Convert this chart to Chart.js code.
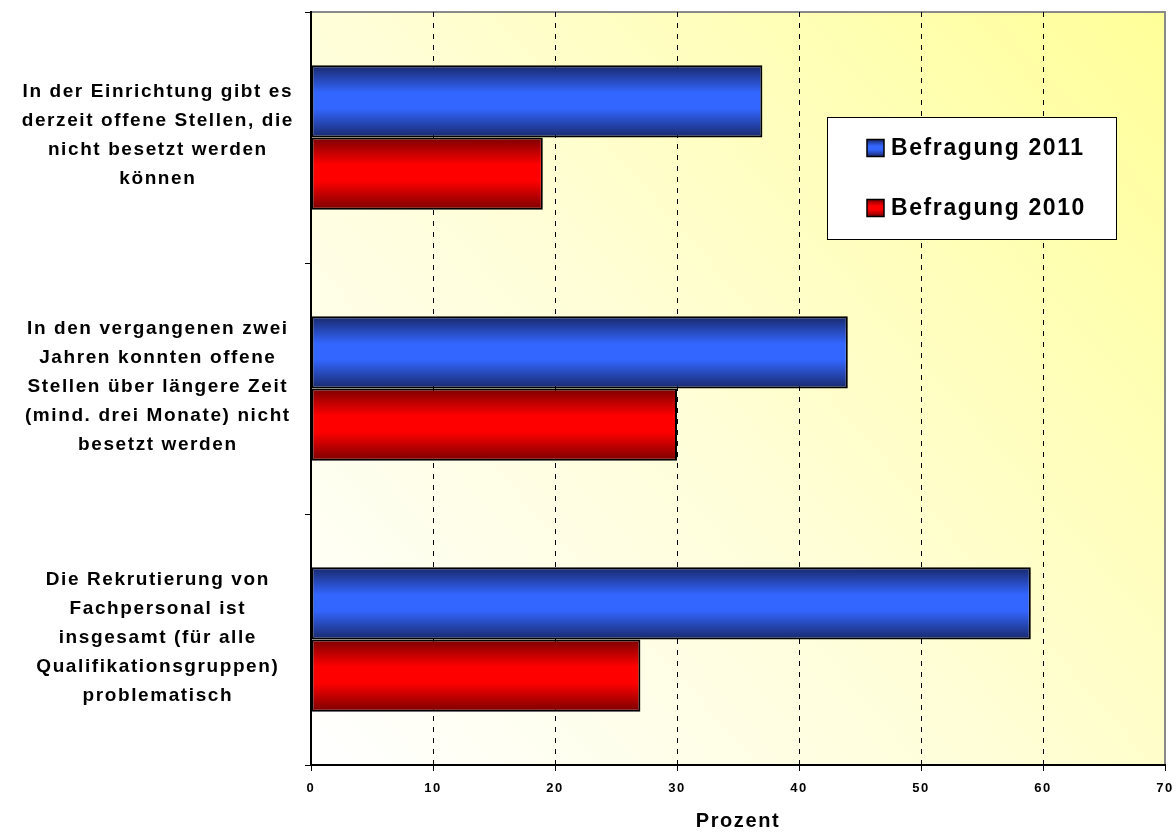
<!DOCTYPE html>
<html><head><meta charset="utf-8">
<script src="https://cdn.jsdelivr.net/npm/chart.js@4.4.0/dist/chart.umd.min.js"></script>
<style>html,body{margin:0;padding:0;background:#fff}#wrap{width:1176px;height:833px;position:relative}canvas{display:block}</style>
</head><body><div id="wrap"><canvas id="c" width="1176" height="833"></canvas></div>
<script>
const categories = [
  ["In der Einrichtung gibt es", "derzeit offene Stellen, die", "nicht besetzt werden", "können"],
  ["In den vergangenen zwei", "Jahren konnten offene", "Stellen über längere Zeit", "(mind. drei Monate) nicht", "besetzt werden"],
  ["Die Rekrutierung von", "Fachpersonal ist", "insgesamt (für alle", "Qualifikationsgruppen)", "problematisch"]
];
const seriesLabels = ["Befragung 2011", "Befragung 2010"];
const values2011 = [37, 44, 59];
const values2010 = [19, 30, 27];
const xTickValues = [0, 10, 20, 30, 40, 50, 60, 70];
const xTitle = "Prozent";

const FONT = "'Liberation Sans', Arial, sans-serif";
const palette = [
  {dark: '#18286a', light: '#3366ff'},
  {dark: '#7a0000', light: '#ff0000'}
];

function makeGrad(ctx, top, bot, p) {
  const g = ctx.createLinearGradient(0, top, 0, bot);
  g.addColorStop(0, p.dark);
  g.addColorStop(0.38, p.light);
  g.addColorStop(0.6, p.light);
  g.addColorStop(1, p.dark);
  return g;
}

const SPACING = '1.6px';
const spacingPlugin = {
  id: 'spacingPlugin',
  beforeUpdate(chart) { chart.ctx.letterSpacing = SPACING; },
  beforeLayout(chart) { chart.ctx.letterSpacing = SPACING; },
  beforeDraw(chart) { chart.ctx.letterSpacing = SPACING; }
};

const bgPlugin = {
  id: 'bgPlugin',
  beforeDraw(chart) {
    const ctx = chart.ctx, a = chart.chartArea;
    ctx.save();
    ctx.fillStyle = '#ffffff';
    ctx.fillRect(0, 0, chart.width, chart.height);
    const g = ctx.createLinearGradient(a.left, a.bottom, a.right, a.top);
    g.addColorStop(0, '#ffffff');
    g.addColorStop(0.45, '#fffed8');
    g.addColorStop(1, '#ffff99');
    ctx.fillStyle = g;
    ctx.fillRect(a.left, a.top, a.right - a.left, a.bottom - a.top);
    ctx.strokeStyle = '#8a8a8a';
    ctx.lineWidth = 2;
    ctx.beginPath();
    ctx.moveTo(a.left, a.top);
    ctx.lineTo(a.right, a.top);
    ctx.lineTo(a.right, a.bottom);
    ctx.stroke();
    ctx.restore();
  }
};

const barGradPlugin = {
  id: 'barGradPlugin',
  beforeDatasetsDraw(chart) {
    const ctx = chart.ctx;
    chart.data.datasets.forEach((ds, i) => {
      const meta = chart.getDatasetMeta(i);
      meta.data.forEach(el => {
        const top = el.y - el.height / 2, bot = el.y + el.height / 2;
        el.options = Object.assign({}, el.options, {backgroundColor: makeGrad(ctx, top, bot, palette[i])});
      });
    });
  }
};

const boxLegendPlugin = {
  id: 'boxLegendPlugin',
  afterDraw(chart) {
    const ctx = chart.ctx, a = chart.chartArea;
    const w = 290, h = 123;
    const x = a.right - 48 - w, y = a.top + 105;
    ctx.save();
    ctx.fillStyle = '#ffffff';
    ctx.fillRect(x, y, w, h);
    ctx.strokeStyle = '#000';
    ctx.lineWidth = 1;
    ctx.strokeRect(x + 0.5, y + 0.5, w - 1, h - 1);
    chart.data.datasets.forEach((ds, i) => {
      const cy = y + 31 + i * 60;
      const mx = x + 40, ms = 17;
      ctx.fillStyle = makeGrad(ctx, cy - ms / 2, cy + ms / 2, palette[i]);
      ctx.fillRect(mx, cy - ms / 2, ms, ms);
      ctx.strokeStyle = '#000';
      ctx.lineWidth = 1.5;
      ctx.strokeRect(mx, cy - ms / 2, ms, ms);
      ctx.fillStyle = '#000';
      ctx.letterSpacing = '1.6px';
      ctx.font = 'bold 23px ' + FONT;
      ctx.textBaseline = 'middle';
      ctx.textAlign = 'left';
      ctx.fillText(ds.label, mx + ms + 7, cy + 1);
    });
    ctx.restore();
  }
};

new Chart(document.getElementById('c'), {
  type: 'bar',
  data: {
    labels: categories,
    datasets: [
      {label: seriesLabels[0], data: values2011, backgroundColor: palette[0].light, borderColor: '#000', borderWidth: 2, borderSkipped: false},
      {label: seriesLabels[1], data: values2010, backgroundColor: palette[1].light, borderColor: '#000', borderWidth: 2, borderSkipped: false}
    ]
  },
  options: {
    indexAxis: 'y',
    responsive: false,
    animation: false,
    devicePixelRatio: 1,
    layout: {padding: {top: 12, right: 11, bottom: 0, left: 0}},
    datasets: {bar: {categoryPercentage: 0.575, barPercentage: 1}},
    plugins: {legend: {display: false}, tooltip: {enabled: false}},
    scales: {
      x: {
        type: 'linear',
        min: 0, max: 70,
        afterBuildTicks: s => { s.ticks = xTickValues.map(v => ({value: v})); },
        afterFit: s => { s.height = 68; s.paddingLeft = 0; s.paddingRight = 0; },
        grid: {
          drawOnChartArea: true,
          color: c => (c.tick && (c.tick.value === 0 || c.tick.value === 70)) ? 'rgba(0,0,0,0)' : '#000',
          tickColor: '#000',
          lineWidth: 1,
          tickLength: 6,
          tickBorderDash: [],
        },
        border: {display: true, color: '#000', width: 2, dash: [5, 6]},
        ticks: {color: '#000', font: {family: FONT, size: 13, weight: 'bold'}, padding: 10, maxRotation: 0, autoSkip: false},
        title: {display: true, text: xTitle, color: '#000', font: {family: FONT, size: 20, weight: 'bold'}, padding: {top: 2, bottom: 0}}
      },
      y: {
        type: 'category',
        offset: true,
        afterFit: s => { s.width = 311; s.paddingTop = 0; s.paddingBottom = 0; },
        border: {display: true, color: '#000', width: 2},
        grid: {offset: true, drawOnChartArea: false, color: '#000', tickLength: 6, lineWidth: 1},
        ticks: {color: '#000', crossAlign: 'center', padding: 11, labelOffset: -2, autoSkip: false, font: {family: FONT, size: 19, weight: 'bold', lineHeight: 1.526}}
      }
    }
  },
  plugins: [spacingPlugin, bgPlugin, barGradPlugin, boxLegendPlugin]
});
</script>
</body></html>
